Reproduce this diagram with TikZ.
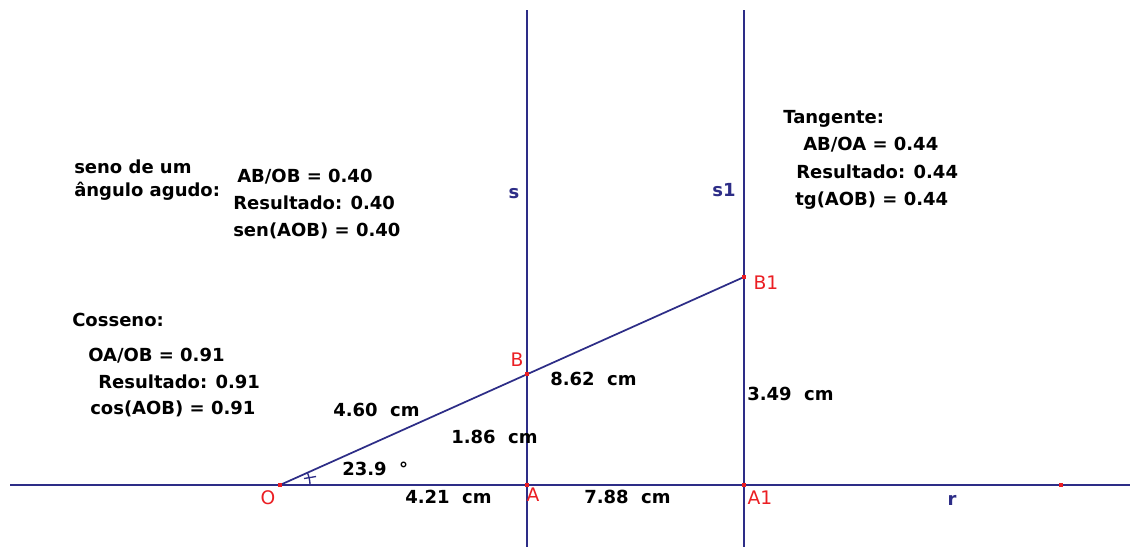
\documentclass[tikz,border=0pt]{standalone}
\usepackage{fontspec}
\setmainfont{DejaVu Sans}
\usetikzlibrary{calc}
\definecolor{navy}{RGB}{45,45,135}
\definecolor{ptred}{RGB}{235,30,35}
\begin{document}
\begin{tikzpicture}[x=0.75pt,y=-0.75pt,
  ln/.style={draw=navy,line width=1.3pt},
  txt/.style={anchor=base west,inner sep=0pt,font=\fontsize{13.5}{16}\selectfont\bfseries,text=black},
  meas/.style={anchor=west,inner sep=0pt,font=\fontsize{13.5}{16}\selectfont\bfseries,text=black},
  plab/.style={inner sep=0pt,font=\fontsize{14}{16}\selectfont,text=ptred},
  llab/.style={inner sep=0pt,font=\fontsize{13.5}{16}\selectfont\bfseries,text=navy},
  pt/.style={fill=ptred,inner sep=0pt,minimum size=3pt,draw=none}]
\useasboundingbox[fill=white] (0,0) rectangle (1130,547);
% end coordinates of lines
\coordinate (rL) at (10,485);
\coordinate (rR) at (1130,485);
\coordinate (sT) at (527,10);
\coordinate (sB) at (527,547);
\coordinate (s1T) at (744,10);
\coordinate (s1B) at (744,547);
% points
\coordinate (O) at (280,485);
\coordinate (A) at (527,485);
\coordinate (A1) at (744,485);
\coordinate (B) at (527,374.3);
\coordinate (B1) at (744,277);
\coordinate (P) at (1061,485);
\coordinate (angS) at (310,485);
% lines
\draw[ln] (rL) -- (rR);
\draw[ln] (sT) -- (sB);
\draw[ln] (s1T) -- (s1B);
\draw[ln] (O) -- (B1);
% angle mark
\draw[navy,line width=1pt] (angS) arc[start angle=0,end angle=24,radius=22.5pt];
\draw[navy,line width=1pt] (304,478.5) -- (316,476.5);
% point markers
\foreach \p in {O,A,A1,B,B1,P} \node[pt] at (\p) {};
% point labels
\node[plab] (lO) at (268,498) {O};
\node[plab] (lA) at (533,495) {A};
\node[plab] (lA1) at (760,498) {A1};
\node[plab] (lB) at (517,360) {B};
\node[plab] (lB1) at (766,283) {B1};
% line labels
\node[llab] (ls) at (514,194) {s};
\node[llab] (ls1) at (724,190) {s1};
\node[llab] (lr) at (952,500) {r};
% measurements
\node[meas] (m1) at (333,410) {4.60\ \ cm};
\node[meas] (m2) at (451,437) {1.86\ \ cm};
\node[meas] (m3) at (550,379) {8.62\ \ cm};
\node[meas] (m4) at (747,394) {3.49\ \ cm};
\node[meas] (m5) at (342,469) {23.9\ \ °};
\node[meas] (m6) at (405,497) {4.21\ \ cm};
\node[meas] (m7) at (584,497) {7.88\ \ cm};
% seno block
\node[txt] (t1) at (74,173) {seno de um};
\node[txt] (t2) at (74,196) {ângulo agudo:};
\node[txt] (t3) at (237,182) {AB/OB = 0.40};
\node[txt] (t4) at (233,209) {Resultado: 0.40};
\node[txt] (t5) at (233,236) {sen(AOB) = 0.40};
% tangente block
\node[txt] (u1) at (783,123) {Tangente:};
\node[txt] (u2) at (803,150) {AB/OA = 0.44};
\node[txt] (u3) at (796,178) {Resultado: 0.44};
\node[txt] (u4) at (795,205) {tg(AOB) = 0.44};
% cosseno block
\node[txt] (c1) at (72,326) {Cosseno:};
\node[txt] (c2) at (88,361) {OA/OB = 0.91};
\node[txt] (c3) at (98,388) {Resultado: 0.91};
\node[txt] (c4) at (90,414) {cos(AOB) = 0.91};
\end{tikzpicture}
\end{document}
